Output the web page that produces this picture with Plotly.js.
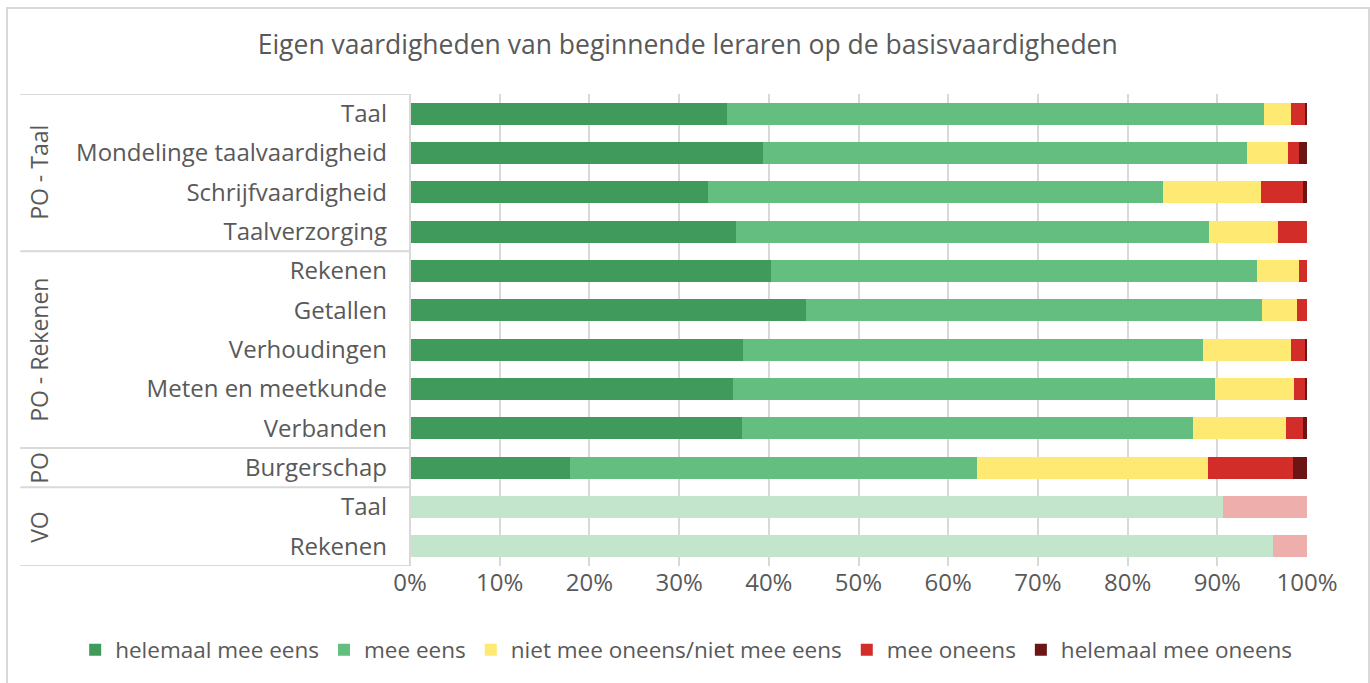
<!DOCTYPE html>
<html>
<head>
<meta charset="utf-8">
<script src="https://cdn.plot.ly/plotly-3.0.1.min.js"></script>
<style>
html,body{margin:0;padding:0;background:#fff;}
#wrap{position:relative;width:1370px;height:683px;overflow:hidden;}
#chart{width:1370px;height:683px;}
#frame{position:absolute;left:6px;top:7px;width:1360px;height:700px;border:2px solid #d9d9d9;pointer-events:none;}
</style>
</head>
<body>
<div id="wrap"><div id="chart"></div><div id="frame"></div></div>
<script>
const categories = ["Taal","Mondelinge taalvaardigheid","Schrijfvaardigheid","Taalverzorging","Rekenen","Getallen","Verhoudingen","Meten en meetkunde","Verbanden","Burgerschap","Taal","Rekenen"];
const groups = ["PO - Taal","PO - Rekenen","PO","VO"];
const groupStart = [0,4,9,10];
const groupEnd = [3,8,9,11];
const seriesNames = ["helemaal mee eens","mee eens","niet mee oneens/niet mee eens","mee oneens","helemaal mee oneens"];
// PO rows (0..9)
const helemaalMeeEens = [35.3,39.3,33.2,36.3,40.2,44.2,37.1,36.0,37.0,17.8];
const meeEens =        [59.9,54.0,50.8,52.8,54.2,50.8,51.3,53.7,50.3,45.4];
const neutraal =       [3.0,4.6,10.9,7.7,4.7,3.9,9.8,8.8,10.4,25.8];
const meeOneens =      [1.6,1.2,4.6,3.2,0.9,1.1,1.6,1.3,1.9,9.4];
const helemaalOneens = [0.2,0.9,0.5,0.0,0.0,0.0,0.2,0.2,0.4,1.6];
// VO rows (10..11)
const voEens =   [90.6,96.2];
const voOneens = [9.4,3.8];
const tickLabels = ["0%","10%","20%","30%","40%","50%","60%","70%","80%","90%","100%"];
const tickValues = [0,10,20,30,40,50,60,70,80,90,100];

const colors = ["#3f9a5c","#63be7f","#fee972","#d32d2a","#6b1514"];
const voColors = ["#c3e5cc","#eeaeab"];

const poIdx = helemaalMeeEens.map((_,i)=>i);
const voIdx = [10,11];
const poSeries = [helemaalMeeEens,meeEens,neutraal,meeOneens,helemaalOneens];

const FONT = '"Open Sans", sans-serif';
const traces = [];
poSeries.forEach((vals,k)=>{
  traces.push({type:'bar',orientation:'h',name:seriesNames[k],x:vals,y:poIdx,
    marker:{color:colors[k],line:{width:0}},hoverinfo:'x+name'});
});
traces.push({type:'bar',orientation:'h',name:'eens',x:voEens,y:voIdx,showlegend:false,marker:{color:voColors[0],line:{width:0}}});
traces.push({type:'bar',orientation:'h',name:'oneens',x:voOneens,y:voIdx,showlegend:false,marker:{color:voColors[1],line:{width:0}}});

const txt = '#595959';
const shapes = [];
const seps = [-0.5,3.5,8.5,9.5,11.5];
seps.forEach(s=>{
  shapes.push({type:'line',xref:'paper',yref:'y',x0:-0.4345,x1:0,y0:s,y1:s,line:{color:'#d9d9d9',width:2}});
});
shapes.push({type:'line',xref:'paper',yref:'y',x0:0,x1:0,y0:-0.5,y1:11.5,line:{color:'#d9d9d9',width:2}});

const annotations = groups.map((g,i)=>({
  xref:'paper',yref:'y',x:-0.4145,y:(groupStart[i]+groupEnd[i])/2,text:g,showarrow:false,
  textangle:-90,font:{family:FONT,size:23,color:txt},xanchor:'center',yanchor:'middle'
}));

const layout = {
  width:1370,height:683,
  margin:{l:410,r:62.5,t:94,b:117},
  paper_bgcolor:'#fff',plot_bgcolor:'#fff',
  barmode:'stack',bargap:0.44,
  font:{family:FONT,color:txt,size:24},
  title:{text:'Eigen vaardigheden van beginnende leraren op de basisvaardigheden',
    font:{family:FONT,size:26.5,color:txt},x:0.502,xref:'container',xanchor:'center',y:(683-45)/683,yref:'container',yanchor:'middle'},
  xaxis:{range:[0,100],tickvals:tickValues,ticktext:tickLabels,showgrid:true,gridcolor:'#d9d9d9',gridwidth:2,
    zeroline:false,showline:false,ticks:'',tickfont:{size:24,color:txt},fixedrange:true},
  yaxis:{range:[11.5,-0.5],tickvals:categories.map((_,i)=>i),ticktext:categories,showgrid:false,zeroline:false,
    showline:false,ticks:'',ticklabelstandoff:22,tickfont:{size:24,color:txt},fixedrange:true},
  legend:{orientation:'h',xref:'paper',yref:'paper',x:(75-410)/897.5,xanchor:'left',y:(566-650)/472,yanchor:'middle',
    font:{size:22.5,color:txt},traceorder:'normal',itemwidth:30},
  shapes:shapes,annotations:annotations,showlegend:true
};
Plotly.newPlot('chart',traces,layout,{displayModeBar:false,staticPlot:true});
</script>
</body>
</html>
